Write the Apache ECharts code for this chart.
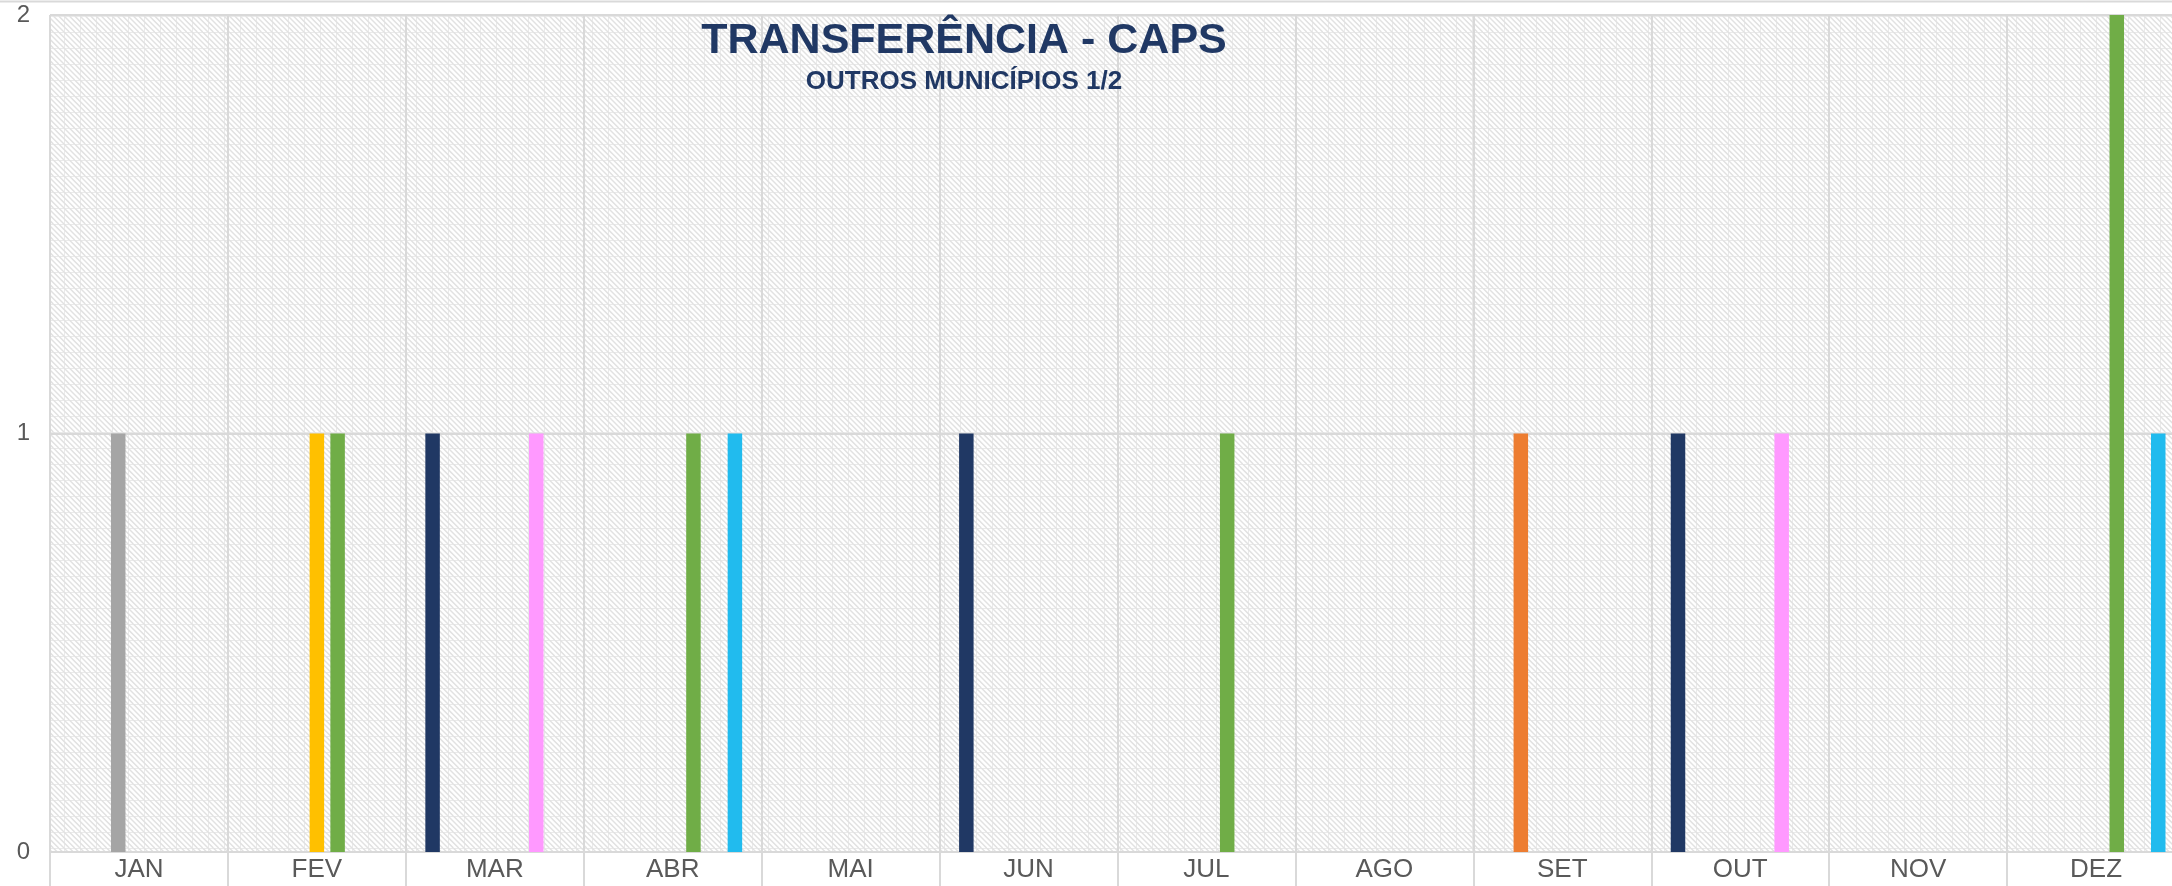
<!DOCTYPE html>
<html>
<head>
<meta charset="utf-8">
<script src="https://cdn.jsdelivr.net/npm/echarts@6/dist/echarts.min.js"></script>
<style>
html,body{margin:0;padding:0;background:#fff;overflow:hidden;}
#chart{width:2185px;height:886px;}
</style>
</head>
<body>
<div id="chart"></div>
<script>
// ---- data ----
const months = ['JAN','FEV','MAR','ABR','MAI','JUN','JUL','AGO','SET','OUT','NOV','DEZ'];
const serie1 = [0,0,1,0,0,1,0,0,0,1,0,0]; // azul escuro
const serie2 = [0,0,0,0,0,0,0,0,1,0,0,0]; // laranja
const serie3 = [1,0,0,0,0,0,0,0,0,0,0,0]; // cinza
const serie4 = [0,1,0,0,0,0,0,0,0,0,0,0]; // amarelo
const serie5 = [0,1,0,1,0,0,1,0,0,0,0,2]; // verde
const serie6 = [0,0,1,0,0,0,0,0,0,1,0,0]; // rosa
const serie7 = [0,0,0,1,0,0,0,0,0,0,0,1]; // azul claro
const yTicks = [0,1,2];
const titleText = 'TRANSFERÊNCIA - CAPS';
const subtitleText = 'OUTROS MUNICÍPIOS 1/2';

// ---- hatch pattern ----
const pc = document.createElement('canvas');
pc.width = 16; pc.height = 16;
const g = pc.getContext('2d');
g.fillStyle = '#ffffff';
g.fillRect(0,0,16,16);
g.strokeStyle = '#eaeaea';
g.lineWidth = 1;
g.beginPath(); g.moveTo(0,0.5); g.lineTo(16,0.5); g.moveTo(0.5,0); g.lineTo(0.5,16); g.stroke();
g.strokeStyle = '#e2e2e2';
g.lineWidth = 1.5;
for (let o = -32; o <= 32; o += 16/3) {
  g.beginPath(); g.moveTo(o,0); g.lineTo(o+16,16); g.stroke();
}

const colors = ['#203864','#ED7D31','#A5A5A5','#FFC000','#70AD47','#FF99FF','#21BBEE'];
const seriesData = [serie1,serie2,serie3,serie4,serie5,serie6,serie7];
const names = ['Série 1','Série 2','Série 3','Série 4','Série 5','Série 6','Série 7'];

const chart = echarts.init(document.getElementById('chart'), null, {renderer:'canvas'});
chart.setOption({
  animation: false,
  color: colors,
  grid: {
    left: 50, top: 15, right: 0, bottom: 34,
    show: true, borderWidth: 0,
    backgroundColor: {image: pc, repeat: 'repeat'}
  },
  graphic: [
    {type:'line', shape:{x1:0,y1:1.5,x2:2185,y2:1.5}, style:{stroke:'#d9d9d9', lineWidth:2}, z:10},
    {type:'text', x:964, y:41, z:20,
      style:{text:titleText, font:'bold 43px "Liberation Sans", Arial, sans-serif', fill:'#203864', align:'center', verticalAlign:'middle'}},
    {type:'text', x:964, y:81.5, z:20,
      style:{text:subtitleText, font:'bold 26px "Liberation Sans", Arial, sans-serif', fill:'#203864', align:'center', verticalAlign:'middle'}}
  ],
  xAxis: {
    type: 'category',
    data: months,
    axisLine: {show:true, lineStyle:{color:'#d9d9d9', width:2}},
    axisTick: {show:true, length:40, lineStyle:{color:'#d9d9d9', width:2}},
    splitLine: {show:true, lineStyle:{color:'#d9d9d9', width:2}},
    axisLabel: {color:'#595959', fontSize:26, fontFamily:'"Liberation Sans", Arial, sans-serif', margin:5}
  },
  yAxis: {
    type: 'value',
    min: yTicks[0], max: yTicks[yTicks.length-1], interval: 1,
    axisLine: {show:false},
    axisTick: {show:false},
    splitLine: {show:true, lineStyle:{color:'#d9d9d9', width:2}},
    axisLabel: {color:'#595959', fontSize:24, fontFamily:'"Liberation Sans", Arial, sans-serif', margin:20}
  },
  series: seriesData.map((d,i) => ({
    name: names[i],
    type: 'bar',
    data: d,
    barWidth: 14.5,
    barGap: '43%',
    itemStyle: {color: colors[i]}
  }))
});
</script>
</body>
</html>
